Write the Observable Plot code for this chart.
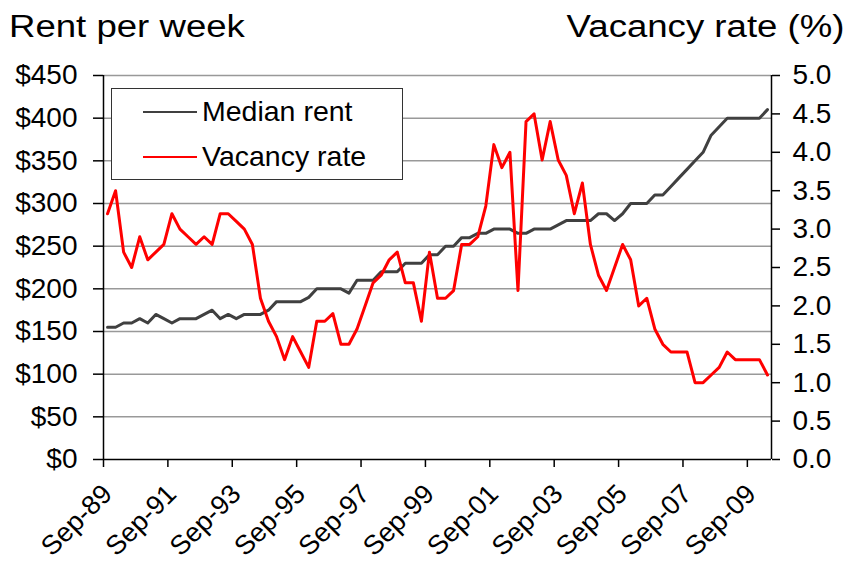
<!DOCTYPE html>
<html>
<head>
<meta charset="utf-8">
<script src="https://cdn.jsdelivr.net/npm/d3@7"></script>
<script src="https://cdn.jsdelivr.net/npm/@observablehq/plot@0.6"></script>
<style>
  body { margin: 0; background: white; overflow: hidden; }
  #wrap { position: relative; width: 849px; height: 567px; overflow: hidden; font-family: "Liberation Sans", Arial, sans-serif; color: #000; }
  .title { position: absolute; top: 11px; font-size: 31px; line-height: 1; white-space: nowrap; }
  #legend { position: absolute; left: 111px; top: 88px; width: 290px; height: 90px; border: 1.5px solid #333; background: white; }
  .row { display: flex; align-items: center; height: 45px; line-height: 45px; font-size: 28.5px; white-space: nowrap; }
  .swatch { margin-left: 31px; width: 54px; height: 0; margin-right: 5px; }
</style>
</head>
<body>
<div id="wrap">
  <div id="chart"></div>
  <div class="title" style="left:9px; transform: scaleX(1.18); transform-origin: left center;">Rent per week</div>
  <div class="title" style="right:5px; transform: scaleX(1.18); transform-origin: right center;">Vacancy rate (%)</div>
  <div id="legend"></div>
</div>
<script>
// Median rent ($ per week), quarterly from Sep-89 to Mar-10
const rent = [
  155,155,160,160,165,160,170,165,160,165,165,165,170,175,165,170,165,170,170,170,
  175,185,185,185,185,190,200,200,200,200,195,210,210,210,220,220,220,230,230,230,
  240,240,250,250,260,260,265,265,270,270,270,265,265,270,270,270,275,280,280,280,
  280,288,288,280,288,300,300,300,310,310,320,330,340,350,360,380,390,400,400,400,
  400,400,410
];
// Vacancy rate (%), same quarters
const vacancy = [
  3.2,3.5,2.7,2.5,2.9,2.6,2.7,2.8,3.2,3.0,2.9,2.8,2.9,2.8,3.2,3.2,3.1,3.0,2.8,2.1,
  1.8,1.6,1.3,1.6,1.4,1.2,1.8,1.8,1.9,1.5,1.5,1.7,2.0,2.3,2.4,2.6,2.7,2.3,2.3,1.8,
  2.7,2.1,2.1,2.2,2.8,2.8,2.9,3.3,4.1,3.8,4.0,2.2,4.4,4.5,3.9,4.4,3.9,3.7,3.2,3.6,
  2.8,2.4,2.2,2.5,2.8,2.6,2.0,2.1,1.7,1.5,1.4,1.4,1.4,1.0,1.0,1.1,1.2,1.4,1.3,1.3,
  1.3,1.3,1.1
];
const tickLabels = ["Sep-89","Sep-91","Sep-93","Sep-95","Sep-97","Sep-99","Sep-01","Sep-03","Sep-05","Sep-07","Sep-09"];
const rentTicks = [0,50,100,150,200,250,300,350,400,450];
const vacancyTicks = [0,0.5,1,1.5,2,2.5,3,3.5,4,4.5,5];
const series = [
  {name: "Median rent", color: "#404040"},
  {name: "Vacancy rate", color: "#ff0000"}
];

const start = new Date(1989, 8, 1);
const data = rent.map((r, i) => ({i, quarter: d3.timeMonth.offset(start, 3 * i), rent: r, vacancy: vacancy[i]}));
const k = rentTicks[rentTicks.length - 1] / vacancyTicks[vacancyTicks.length - 1]; // right axis -> left axis
const n = rent.length;
// category axis: each label tick sits on the boundary before its quarter (every 8 quarters)
const xTicks = tickLabels.map((_, j) => j * 8 - 0.5);

const chart = Plot.plot({
  width: 849,
  height: 567,
  marginTop: 75,
  marginBottom: 108,
  marginLeft: 103,
  marginRight: 78,
  style: {fontFamily: "'Liberation Sans', Arial, sans-serif", fontSize: "28px", color: "#000", background: "white", overflow: "visible"},
  x: {type: "linear", domain: [-0.5, n - 0.5]},
  y: {domain: [rentTicks[0], rentTicks[rentTicks.length - 1]]},
  marks: [
    Plot.ruleY(rentTicks.slice(1), {stroke: "#999", strokeWidth: 1.5}),
    Plot.axisY(rentTicks, {anchor: "left", tickSize: 10, tickPadding: 16, strokeWidth: 1.5, tickFormat: d => "$" + d, label: null}),
    Plot.axisY(vacancyTicks.map(v => v * k), {anchor: "right", tickSize: 8, tickPadding: 13, strokeWidth: 1.5, tickFormat: d => (d / k).toFixed(1), label: null}),
    Plot.axisX(xTicks, {anchor: "bottom", tickSize: 8, strokeWidth: 1.5, text: null, label: null}),
    Plot.axisX(xTicks, {anchor: "bottom", tickSize: 0, tickPadding: 30, dx: 4, fontSize: 27, tickRotate: -45, tickFormat: d => tickLabels[Math.round((d + 0.5) / 8)], label: null}),
    Plot.ruleX([-0.5, n - 0.5], {stroke: "#000", strokeWidth: 1.5}),
    Plot.ruleY([0], {stroke: "#000", strokeWidth: 1.5}),
    Plot.line(data, {x: "i", y: "rent", stroke: series[0].color, strokeWidth: 3}),
    Plot.line(data, {x: "i", y: d => d.vacancy * k, stroke: series[1].color, strokeWidth: 3})
  ]
});
document.getElementById("chart").appendChild(chart);

const legend = document.getElementById("legend");
for (const s of series) {
  const row = document.createElement("div");
  row.className = "row";
  const sw = document.createElement("div");
  sw.className = "swatch";
  sw.style.borderTop = `2px solid ${s.color}`;
  const label = document.createElement("span");
  label.textContent = s.name;
  row.appendChild(sw);
  row.appendChild(label);
  legend.appendChild(row);
}
</script>
</body>
</html>
